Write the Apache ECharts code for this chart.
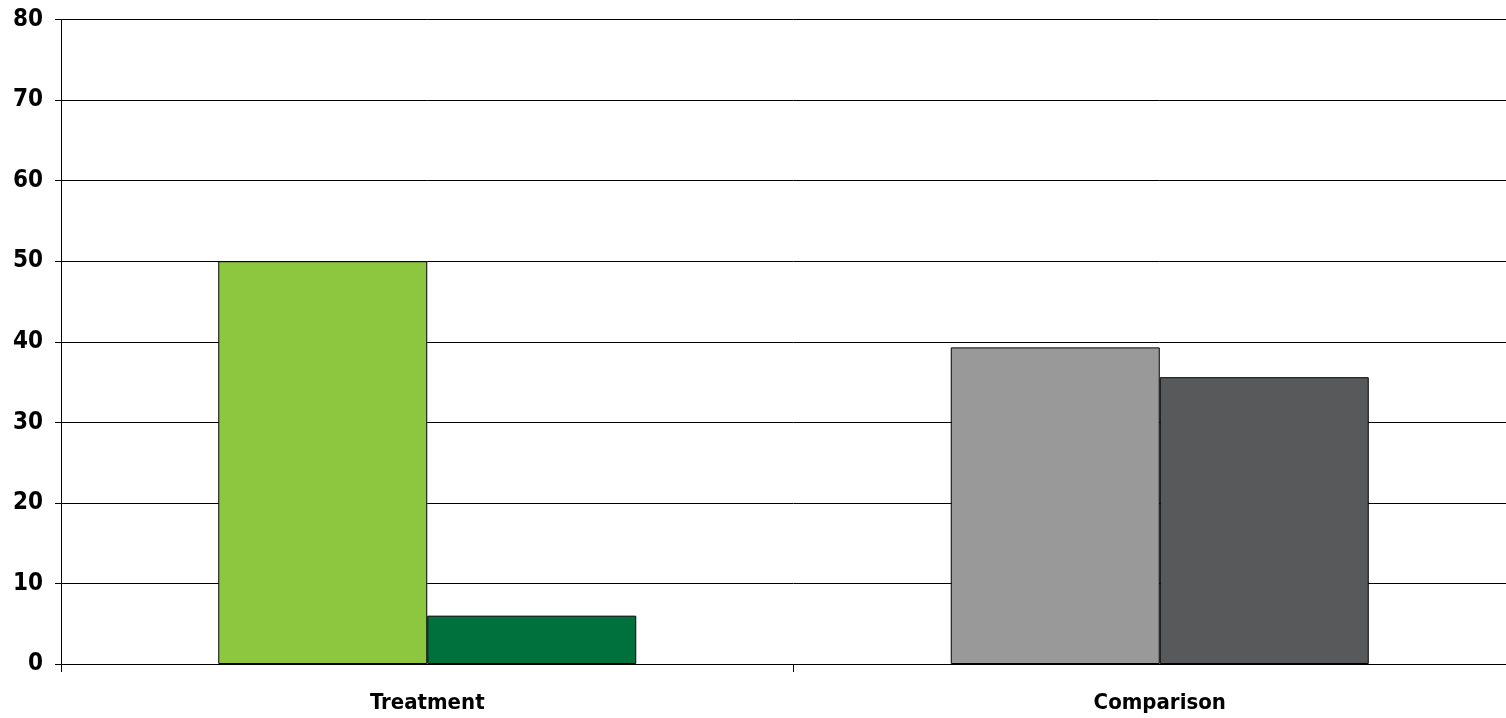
<!DOCTYPE html>
<html>
<head>
<meta charset="utf-8">
<style>
html,body{margin:0;padding:0;background:#fff;overflow:hidden;width:1506px;height:718px;}
#chart{width:1526px;height:718px;}
</style>
<script src="https://cdn.jsdelivr.net/npm/echarts@6/dist/echarts.min.js"></script>
</head>
<body>
<div id="chart"></div>
<script>
const categories = ['Treatment', 'Comparison'];
const firstBar = [50, 39.3];
const secondBar = [6, 35.6];
const firstColors = ['#8DC63F', '#999999'];
const secondColors = ['#00703C', '#58595B'];
const yTicks = { min: 0, max: 80, interval: 10 };

const font = '"Liberation Sans Narrow", "DejaVu Sans Condensed", Arial, sans-serif';

const chart = echarts.init(document.getElementById('chart'), null, { renderer: 'canvas' });
chart.setOption({
  animation: false,
  backgroundColor: '#ffffff',
  grid: { left: 61, right: 0, top: 19.5, bottom: 54, containLabel: false },
  xAxis: {
    type: 'category',
    data: categories,
    axisLine: { show: true, lineStyle: { color: '#000', width: 1 } },
    axisTick: { show: true, length: 8, lineStyle: { color: '#000', width: 1 } },
    axisLabel: { color: '#000', fontFamily: font, fontWeight: 'bold', fontSize: 22, margin: 28 },
    splitLine: { show: false }
  },
  yAxis: {
    type: 'value',
    min: yTicks.min, max: yTicks.max, interval: yTicks.interval,
    axisLine: { show: true, lineStyle: { color: '#000', width: 1 } },
    axisTick: { show: true, length: 6, lineStyle: { color: '#000', width: 1 } },
    axisLabel: { color: '#000', fontFamily: font, fontWeight: 'bold', fontSize: 24, margin: 18 },
    splitLine: { show: true, lineStyle: { color: '#000', width: 1 } }
  },
  series: [
    {
      type: 'bar',
      barWidth: 209,
      barGap: '0%',
      data: firstBar.map((v, i) => ({ value: v, itemStyle: { color: firstColors[i] } })),
      itemStyle: { borderColor: '#000', borderWidth: 1 }
    },
    {
      type: 'bar',
      barWidth: 209,
      barGap: '0%',
      data: secondBar.map((v, i) => ({ value: v, itemStyle: { color: secondColors[i] } })),
      itemStyle: { borderColor: '#000', borderWidth: 1 }
    }
  ]
});
</script>
</body>
</html>
